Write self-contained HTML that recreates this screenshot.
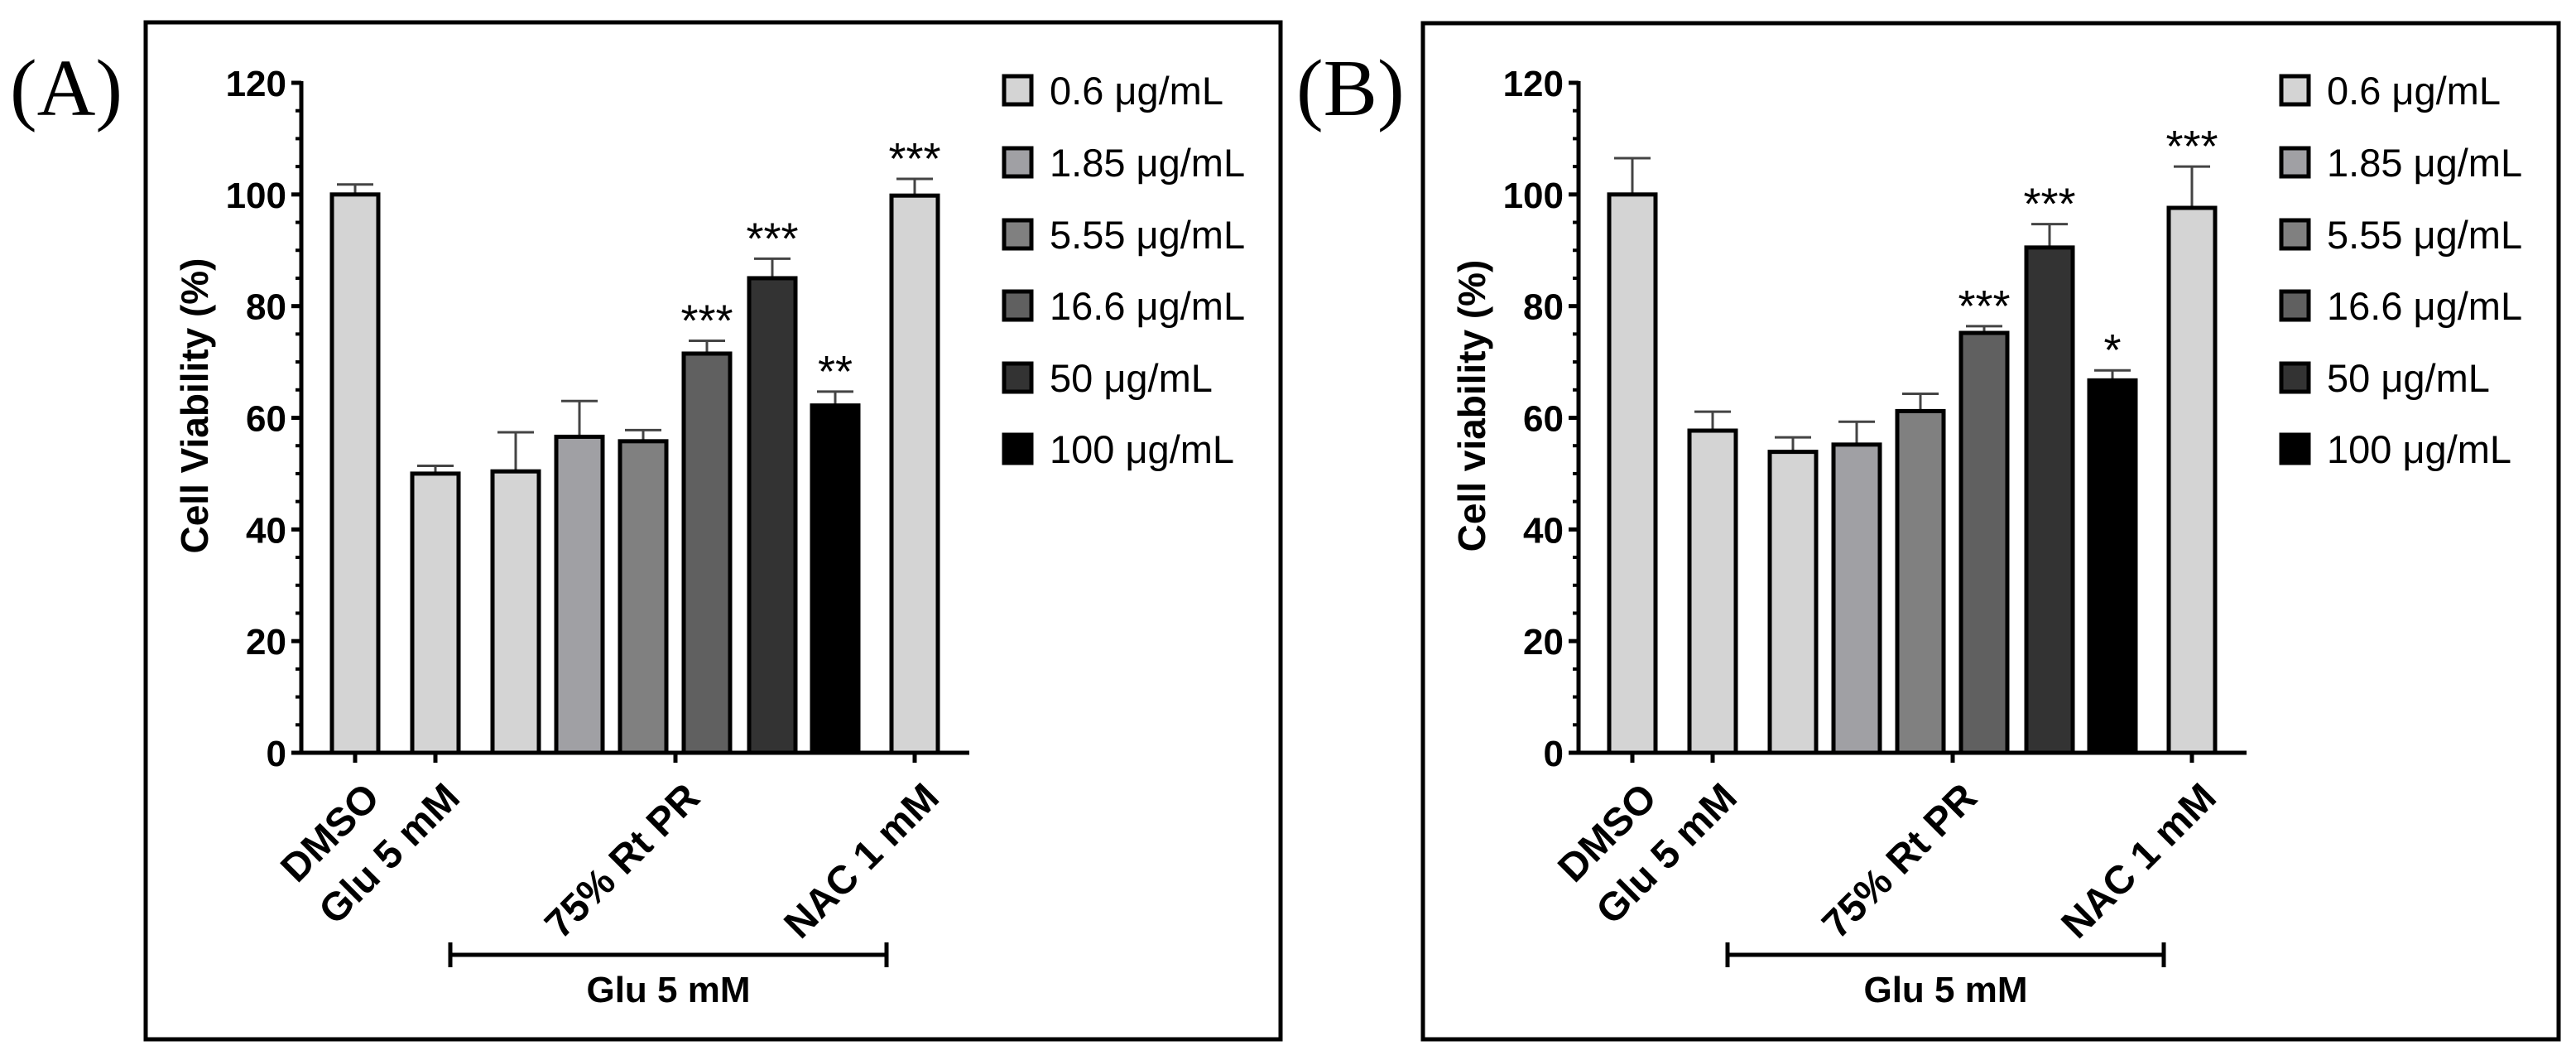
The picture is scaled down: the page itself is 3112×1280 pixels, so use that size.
<!DOCTYPE html>
<html><head><meta charset="utf-8"><style>
html,body{margin:0;padding:0;background:#fff}
svg{display:block}
text{font-family:"Liberation Sans",Arial,sans-serif}
</style></head><body>
<svg id="fig" width="3112" height="1280" viewBox="0 0 3112 1280" xmlns="http://www.w3.org/2000/svg">
<rect x="0" y="0" width="3112" height="1280" fill="#fff"/>
<rect x="176" y="27" width="1371" height="1228" fill="none" stroke="#000" stroke-width="5"/>
<rect x="1719" y="28" width="1372" height="1227" fill="none" stroke="#000" stroke-width="5"/>
<text x="12" y="139" style="font-family:'Liberation Serif',serif" font-size="98">(A)</text>
<text x="1566" y="139" style="font-family:'Liberation Serif',serif" font-size="98">(B)</text>
</svg>
<script>
const categories = ["DMSO","Glu 5 mM","0.6","1.85","5.55","16.6","50","100","NAC 1 mM"];
const valuesA = [100, 50, 50.4, 56.6, 55.8, 71.5, 85, 62.2, 99.8];
const errorsA = [1.8, 1.4, 7.0, 6.4, 2.0, 2.3, 3.5, 2.5, 3.0];
const starsA = ["", "", "", "", "", "***", "***", "**", "***"];
const valuesB = [100, 57.7, 53.9, 55.2, 61.2, 75.2, 90.5, 66.7, 97.6];
const errorsB = [6.5, 3.4, 2.6, 4.1, 3.1, 1.2, 4.2, 1.8, 7.4];
const starsB = ["", "", "", "", "", "***", "***", "*", "***"];
const yTicks = [0, 20, 40, 60, 80, 100, 120];
const tickLabels = ["DMSO", "Glu 5 mM", "75% Rt PR", "NAC 1 mM"];
const legendLabels = ["0.6 μg/mL","1.85 μg/mL","5.55 μg/mL","16.6 μg/mL","50 μg/mL","100 μg/mL"];
const barColors = ["#d4d4d4","#d4d4d4","#d4d4d4","#a0a0a4","#808080","#606060","#333333","#000000","#d4d4d4"];
const legendColors = ["#d4d4d4","#a0a0a4","#808080","#606060","#333333","#000000"];

const NS = "http://www.w3.org/2000/svg";
const svg = document.getElementById("fig");
const Y0 = 909, Y120 = 100;
function yScale(v){ return Y0 - (Y0 - Y120) * v / 120; }
const offsets = [0, 97, 194, 271, 348, 425, 504, 580, 676];
function xScale(base, i){ return base + offsets[i]; }
function el(tag, attrs, parent){
  const e = document.createElementNS(NS, tag);
  for (const k in attrs) e.setAttribute(k, attrs[k]);
  (parent || svg).appendChild(e);
  return e;
}
function drawPanel(id, base, values, errors, stars, title){
  const g = el("g", {});
  
  
  const ax = base - 65, axEnd = base + 742;
  for (let v = 0; v <= 120; v += 5) {
    if (v % 20 === 0) continue;
    const t = el("line", {x1: ax - 7, x2: ax, y1: yScale(v), y2: yScale(v), stroke: "#000", "stroke-width": 4}, g);
    
    
  }
  yTicks.forEach(v => {
    const t = el("line", {x1: ax - 12, x2: ax, y1: yScale(v), y2: yScale(v), stroke: "#000", "stroke-width": 5}, g);
    
    
    const l = el("text", {x: ax - 18, y: yScale(v) + 16, "text-anchor": "end", "font-size": 44, "font-weight": "bold"}, g);
    l.textContent = String(v);
    
    
  });
  const ttl = el("text", {x: 0, y: 0, "text-anchor": "middle", "font-size": 46, "font-weight": "bold", transform: `translate(${base - 178},490) rotate(-90)`}, g);
  ttl.textContent = title;
  
  
  values.forEach((v, i) => {
    const cx = xScale(base, i);
    const top = yScale(v), et = yScale(v + errors[i]);
    const eb = el("line", {x1: cx, x2: cx, y1: top, y2: et, stroke: "#444", "stroke-width": 3}, g);
    
    
    const cap = el("line", {x1: cx - 22, x2: cx + 22, y1: et, y2: et, stroke: "#444", "stroke-width": 3}, g);
    
    
    const r = el("rect", {x: cx - 28, y: top, width: 56, height: Y0 - top, fill: barColors[i], stroke: "#000", "stroke-width": 5}, g);
    
    
    if (stars[i]) {
      const s = el("text", {x: cx, y: et - 6, "text-anchor": "middle", "font-size": 54}, g);
      s.textContent = stars[i];
      
      
    }
  });
  const ya = el("line", {x1: ax, x2: ax, y1: Y120 - 2, y2: Y0 + 2, stroke: "#000", "stroke-width": 5}, g);
  
  
  const xa = el("line", {x1: ax - 12, x2: axEnd, y1: Y0, y2: Y0, stroke: "#000", "stroke-width": 5}, g);
  
  
  const tickX = [xScale(base,0), xScale(base,1), (xScale(base,2) + xScale(base,7)) / 2, xScale(base,8)];
  tickX.forEach((tx, k) => {
    const t = el("line", {x1: tx, x2: tx, y1: Y0, y2: Y0 + 12, stroke: "#000", "stroke-width": 5}, g);
    
    
    const l = el("text", {x: 0, y: 0, "text-anchor": "end", "font-size": 48, "font-weight": "bold", transform: `translate(${tx + 32},966) rotate(-45)`}, g);
    l.textContent = tickLabels[k];
    
    
  });
  const bx1 = base + 115, bx2 = base + 642;
  const br = el("path", {d: `M${bx1},1138 V1168 M${bx1},1153 H${bx2} M${bx2},1138 V1168`, fill: "none", stroke: "#000", "stroke-width": 5}, g);
  
  
  const bl = el("text", {x: (bx1 + bx2) / 2, y: 1210, "text-anchor": "middle", "font-size": 44, "font-weight": "bold"}, g);
  bl.textContent = "Glu 5 mM";
  
  
  const lgx = base + 782;
  const lgY = [109, 196, 283, 369, 456, 542];
  legendLabels.forEach((lab, k) => {
    const sq = el("rect", {x: lgx + 2, y: lgY[k] - 17, width: 33, height: 34, fill: legendColors[k], stroke: "#000", "stroke-width": 5}, g);
    
    
    const t = el("text", {x: lgx + 57, y: lgY[k] + 17, "font-size": 47}, g);
    t.textContent = lab;
    
    
  });
}
drawPanel("panel-a", 429, valuesA, errorsA, starsA, "Cell Viability (%)");
drawPanel("panel-b", 1972, valuesB, errorsB, starsB, "Cell viability (%)");
</script>
</body></html>
